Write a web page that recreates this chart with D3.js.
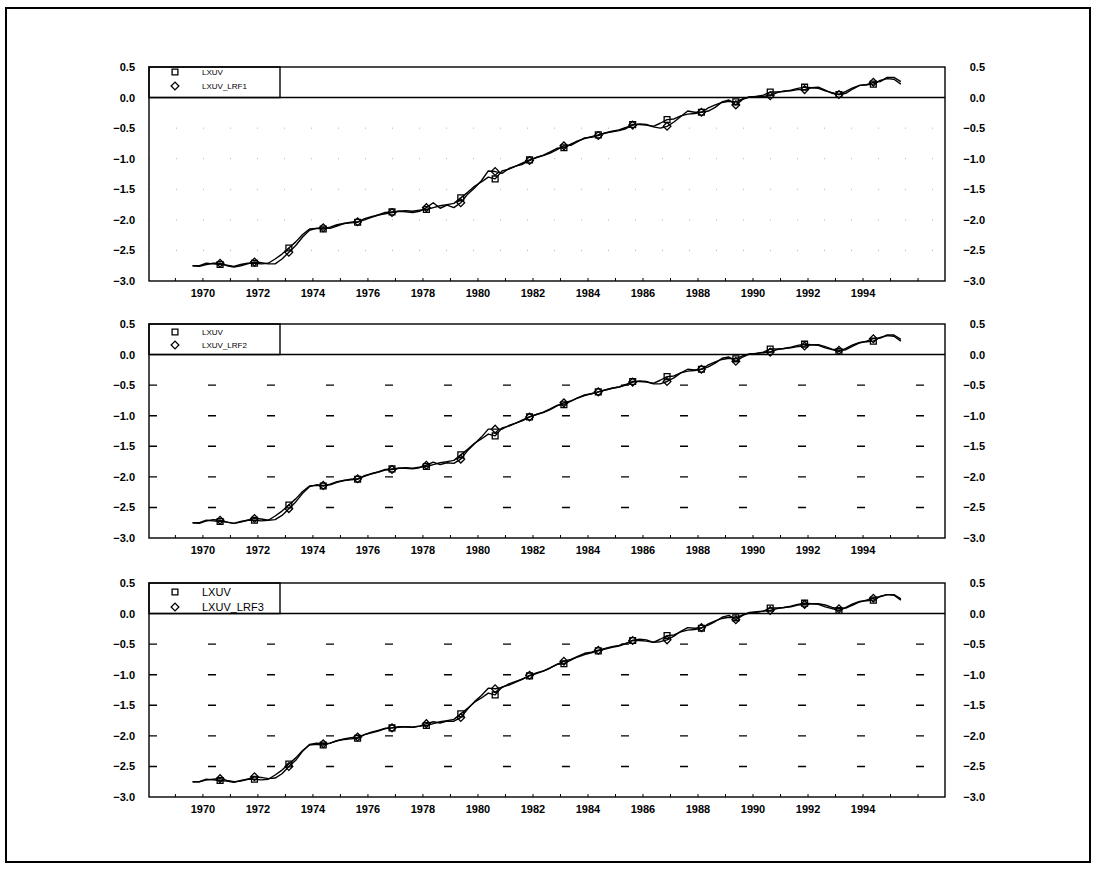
<!DOCTYPE html>
<html>
<head>
<meta charset="utf-8">
<script src="https://cdn.jsdelivr.net/npm/d3@7"></script>
<style>
  body { margin: 0; background: #fff; }
  text { font-family: "Liberation Sans", Arial, sans-serif; }
</style>
</head>
<body>
<script>
// quarterly series, first observation 1969Q3
var startYear = 1969, startQuarter = 3;

var yTicks = [0.5, 0.0, -0.5, -1.0, -1.5, -2.0, -2.5, -3.0];
var gridValues = [-0.5, -1.0, -1.5, -2.0, -2.5];
var xTickYears = [1970, 1972, 1974, 1976, 1978, 1980, 1982, 1984, 1986, 1988, 1990, 1992, 1994];

var lxuv = [
  -2.75, -2.75,
  -2.71, -2.72, -2.73, -2.74,
  -2.76, -2.73, -2.71, -2.71,
  -2.72, -2.71, -2.64, -2.56,
  -2.46, -2.36, -2.24, -2.15,
  -2.14, -2.15, -2.12, -2.08,
  -2.06, -2.05, -2.04, -1.98,
  -1.95, -1.92, -1.88, -1.87,
  -1.86, -1.85, -1.86, -1.84,
  -1.83, -1.80, -1.77, -1.75,
  -1.73, -1.64, -1.55, -1.45,
  -1.38, -1.30, -1.33, -1.20,
  -1.17, -1.12, -1.07, -1.02,
  -0.98, -0.94, -0.89, -0.83,
  -0.82, -0.76, -0.71, -0.67,
  -0.64, -0.61, -0.58, -0.55,
  -0.53, -0.49, -0.44, -0.44,
  -0.45, -0.47, -0.42, -0.36,
  -0.35, -0.30, -0.27, -0.26,
  -0.24, -0.17, -0.12, -0.08,
  -0.06, -0.07, -0.02, 0.01,
  0.02, 0.04, 0.09, 0.09,
  0.10, 0.12, 0.15, 0.17,
  0.16, 0.15, 0.11, 0.08,
  0.05, 0.10, 0.16, 0.20,
  0.21, 0.22, 0.28, 0.31,
  0.30, 0.22
];

var lxuvLrf1 = [
  -2.75, -2.76,
  -2.73, -2.71, -2.71, -2.75,
  -2.77, -2.75, -2.72, -2.69,
  -2.70, -2.72, -2.72, -2.64,
  -2.53, -2.42, -2.28, -2.17,
  -2.14, -2.13, -2.14, -2.10,
  -2.06, -2.04, -2.03, -2.00,
  -1.96, -1.92, -1.90, -1.88,
  -1.86, -1.87, -1.88, -1.86,
  -1.80, -1.72, -1.81, -1.76,
  -1.80, -1.72, -1.58, -1.48,
  -1.36, -1.20, -1.21, -1.24,
  -1.16, -1.12, -1.09, -1.03,
  -0.98, -0.95, -0.91, -0.85,
  -0.79, -0.78, -0.72, -0.66,
  -0.65, -0.62, -0.58, -0.56,
  -0.54, -0.51, -0.45, -0.43,
  -0.44, -0.48, -0.50, -0.47,
  -0.40, -0.31, -0.22, -0.24,
  -0.24, -0.22, -0.16, -0.07,
  -0.04, -0.12, -0.03, 0.01,
  0.02, 0.02, 0.03, 0.08,
  0.11, 0.11, 0.13, 0.13,
  0.16, 0.17, 0.12, 0.07,
  0.05, 0.07, 0.14, 0.20,
  0.21, 0.25, 0.26, 0.33,
  0.33, 0.26
];

var lxuvLrf2 = [
  -2.75, -2.76,
  -2.72, -2.70, -2.71, -2.74,
  -2.76, -2.74, -2.71, -2.68,
  -2.69, -2.71, -2.70, -2.63,
  -2.52, -2.41, -2.27, -2.16,
  -2.13, -2.14, -2.13, -2.09,
  -2.06, -2.04, -2.03, -1.99,
  -1.95, -1.92, -1.89, -1.88,
  -1.86, -1.86, -1.87, -1.85,
  -1.81, -1.76, -1.80, -1.77,
  -1.78, -1.71, -1.57, -1.46,
  -1.35, -1.22, -1.22, -1.22,
  -1.16, -1.12, -1.08, -1.02,
  -0.98, -0.95, -0.90, -0.84,
  -0.79, -0.76, -0.71, -0.66,
  -0.64, -0.61, -0.58, -0.55,
  -0.53, -0.50, -0.45, -0.43,
  -0.44, -0.48, -0.48, -0.44,
  -0.38, -0.30, -0.24, -0.25,
  -0.24, -0.20, -0.14, -0.06,
  -0.04, -0.11, -0.04, 0.01,
  0.02, 0.03, 0.04, 0.08,
  0.10, 0.11, 0.13, 0.14,
  0.16, 0.16, 0.13, 0.09,
  0.07, 0.08, 0.14, 0.19,
  0.22, 0.26, 0.27, 0.32,
  0.32, 0.25
];

var lxuvLrf3 = [
  -2.75, -2.75,
  -2.72, -2.71, -2.70, -2.73,
  -2.75, -2.74, -2.71, -2.67,
  -2.68, -2.70, -2.69, -2.62,
  -2.50, -2.40, -2.25, -2.14,
  -2.12, -2.13, -2.12, -2.08,
  -2.05, -2.03, -2.02, -1.98,
  -1.94, -1.91, -1.88, -1.87,
  -1.85, -1.85, -1.86, -1.84,
  -1.80, -1.77, -1.79, -1.76,
  -1.76, -1.70, -1.56, -1.44,
  -1.34, -1.22, -1.23, -1.21,
  -1.15, -1.11, -1.07, -1.01,
  -0.97, -0.94, -0.89, -0.83,
  -0.78, -0.75, -0.70, -0.65,
  -0.63, -0.60, -0.57, -0.54,
  -0.52, -0.49, -0.44, -0.42,
  -0.43, -0.47, -0.46, -0.43,
  -0.37, -0.29, -0.23, -0.24,
  -0.23, -0.19, -0.13, -0.06,
  -0.03, -0.10, -0.03, 0.02,
  0.03, 0.04, 0.05, 0.08,
  0.10, 0.11, 0.14, 0.15,
  0.16, 0.16, 0.14, 0.10,
  0.08, 0.09, 0.14, 0.19,
  0.22, 0.25, 0.28, 0.31,
  0.31, 0.24
];

var forecastNames = ['LXUV_LRF1', 'LXUV_LRF2', 'LXUV_LRF3'];
var forecasts = [lxuvLrf1, lxuvLrf2, lxuvLrf3];

var width = 1096, height = 871;
var plotLeft = 149, plotRight = 945, plotHeight = 214;
var panelTops = [67, 324, 583];
var legendRight = 280;
// legend text size and row offsets differ a bit per panel in the original
var legendFont = [8, 8, 11];
var legendRows = [[5, 19], [8, 21], [9, 24]];

var svg = d3.select('body').append('svg')
  .attr('width', width)
  .attr('height', height);

svg.append('rect')
  .attr('x', 6).attr('y', 8)
  .attr('width', 1084).attr('height', 854)
  .attr('fill', 'none')
  .attr('stroke', '#000')
  .attr('stroke-width', 2);

var x = d3.scaleLinear().domain([1968.04, 1996.98]).range([plotLeft, plotRight]);

var dates = lxuv.map(function(d, i) {
  return startYear + (startQuarter - 0.5) / 4 + i / 4;
});

var squarePath = d3.symbol().type(d3.symbolSquare).size(34)();
var diamondPath = d3.symbol().type(d3.symbolSquare).size(30)();

panelTops.forEach(function(top, p) {
  var g = svg.append('g').attr('transform', 'translate(0,' + top + ')');
  var y = d3.scaleLinear().domain([-3, 0.5]).range([plotHeight, 0]);

  // dashed horizontal grid (faint dots in the first panel)
  g.selectAll('line.grid')
    .data(gridValues)
    .enter()
    .append('line')
    .attr('class', 'grid')
    .attr('x1', plotLeft).attr('x2', plotRight)
    .attr('y1', function(d) { return y(d); })
    .attr('y2', function(d) { return y(d); })
    .attr('stroke', p === 0 ? '#b0b0b0' : '#000')
    .attr('stroke-width', p === 0 ? 1 : 1.4)
    .attr('stroke-dasharray', p === 0 ? '1 26' : '8 51');

  g.append('line')
    .attr('x1', plotLeft).attr('x2', plotRight)
    .attr('y1', y(0)).attr('y2', y(0))
    .attr('stroke', '#000').attr('stroke-width', 1.4);

  g.append('rect')
    .attr('x', plotLeft).attr('y', 0)
    .attr('width', plotRight - plotLeft).attr('height', plotHeight)
    .attr('fill', 'none')
    .attr('stroke', '#000').attr('stroke-width', 1.4);

  // bottom year ticks
  g.selectAll('line.xtick')
    .data(d3.range(1969, 1997))
    .enter()
    .append('line')
    .attr('class', 'xtick')
    .attr('x1', function(d) { return x(d); })
    .attr('x2', function(d) { return x(d); })
    .attr('y1', plotHeight).attr('y2', plotHeight - 3)
    .attr('stroke', '#000');

  g.selectAll('text.xlab')
    .data(xTickYears)
    .enter()
    .append('text')
    .attr('class', 'xlab')
    .attr('x', function(d) { return x(d); })
    .attr('y', plotHeight + 16)
    .attr('text-anchor', 'middle')
    .style('font-size', '11px')
    .style('font-weight', 'bold')
    .text(function(d) { return d; });

  g.selectAll('text.ylab')
    .data(yTicks)
    .enter()
    .append('text')
    .attr('class', 'ylab')
    .attr('x', 135)
    .attr('y', function(d) { return y(d) + 4; })
    .attr('text-anchor', 'end')
    .style('font-size', '11px')
    .style('font-weight', 'bold')
    .text(function(d) { return d3.format('.1f')(d); });

  g.selectAll('text.ylabr')
    .data(yTicks)
    .enter()
    .append('text')
    .attr('class', 'ylabr')
    .attr('x', 985)
    .attr('y', function(d) { return y(d) + 4; })
    .attr('text-anchor', 'end')
    .style('font-size', '11px')
    .style('font-weight', 'bold')
    .text(function(d) { return d3.format('.1f')(d); });

  // legend box
  g.append('rect')
    .attr('x', plotLeft).attr('y', 0)
    .attr('width', legendRight - plotLeft).attr('height', y(0))
    .attr('fill', 'none')
    .attr('stroke', '#000').attr('stroke-width', 1.4);

  var names = ['LXUV', forecastNames[p]];
  names.forEach(function(name, r) {
    var ry = legendRows[p][r];
    g.append('path')
      .attr('d', r === 0 ? squarePath : diamondPath)
      .attr('transform', 'translate(175,' + ry + ')' + (r === 1 ? ' rotate(45)' : ''))
      .attr('fill', 'none')
      .attr('stroke', '#000')
      .attr('stroke-width', 1.3);
    g.append('text')
      .attr('x', 202)
      .attr('y', ry + legendFont[p] * 0.36)
      .style('font-size', legendFont[p] + 'px')
      .text(name);
  });

  var line = d3.line()
    .x(function(d, i) { return x(dates[i]); })
    .y(function(d) { return y(d); });

  [lxuv, forecasts[p]].forEach(function(series, s) {
    g.append('path')
      .datum(series)
      .attr('d', line)
      .attr('fill', 'none')
      .attr('stroke', '#000')
      .attr('stroke-width', 1.4)
      .attr('stroke-linejoin', 'round');

    var marked = series
      .map(function(v, i) { return { v: v, i: i }; })
      .filter(function(d) { return d.i % 5 === 4; });

    g.selectAll('path.mark' + s)
      .data(marked)
      .enter()
      .append('path')
      .attr('class', 'mark' + s)
      .attr('d', s === 0 ? squarePath : diamondPath)
      .attr('transform', function(d) {
        return 'translate(' + x(dates[d.i]) + ',' + y(d.v) + ')' + (s === 1 ? ' rotate(45)' : '');
      })
      .attr('fill', 'none')
      .attr('stroke', '#000')
      .attr('stroke-width', 1.3);
  });
});
</script>
</body>
</html>
